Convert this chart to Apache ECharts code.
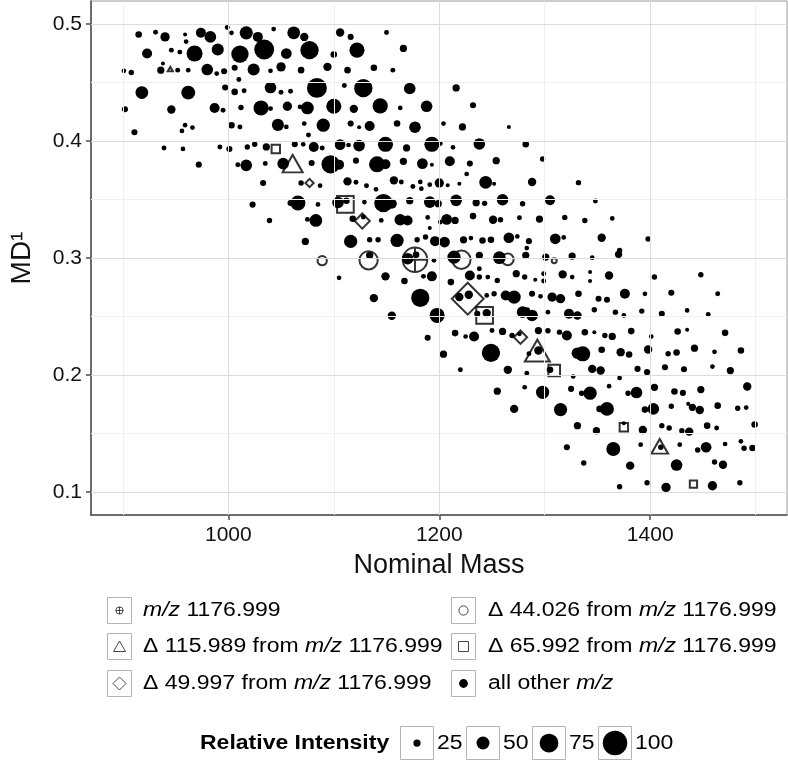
<!DOCTYPE html>
<html>
<head>
<meta charset="utf-8">
<script src="https://cdn.jsdelivr.net/npm/echarts@6/dist/echarts.min.js"></script>
<style>html,body{margin:0;padding:0;background:#fff}#c{width:788px;height:761px}</style>
</head>
<body>
<div id="c"></div>
<script>
// ---------- DATA (nominal mass, MD^1, relative intensity) ----------
const xTicks = [1000, 1200, 1400];
const xMinor = [900, 1100, 1300, 1500];
const yTicks = [0.1, 0.2, 0.3, 0.4, 0.5];
const yMinor = [0.15, 0.25, 0.35, 0.45];
const sizeBreaks = [25, 50, 75, 100];

const mz1176 = [[1177, 0.2985, 100]];
const delta44 = [[1089, 0.2977, 34], [1133, 0.2980, 73], [1221, 0.2985, 73], [1265, 0.2988, 44], [1309, 0.2977, 15]];
const delta116 = [[945, 0.4614, 12], [1061, 0.3807, 66], [1293, 0.2209, 84], [1409, 0.1390, 54]];
const delta66 = [[1045, 0.3932, 30], [1111, 0.3458, 66], [1243, 0.2509, 66], [1309, 0.2038, 44], [1375, 0.1553, 30], [1441, 0.1068, 25]];
const delta50 = [[1077, 0.3641, 21], [1127, 0.3316, 44], [1227, 0.2652, 100], [1277, 0.2323, 38]];

const otherMz = [
[915,0.491,22],[931,0.493,15],[940,0.489,34],[959,0.491,11],[960,0.485,14],[974,0.4925,37],[983,0.489,44],[999,0.497,15],[1003,0.4925,14],[1017,0.4925,51],
[1028,0.489,37],[1043,0.4957,14],[1062,0.4925,49],[1072,0.489,30],[1106,0.4928,30],[1116,0.489,20],[1150,0.4928,15],
[923,0.4748,37],[946,0.4777,15],[954,0.476,15],[968,0.4748,63],[990,0.4783,46],[1011,0.4743,69],[1034,0.4783,80],[1055,0.4748,40],[1077,0.4777,73],[1100,0.474,22],[1122,0.4777,59],
[901,0.46,14],[908,0.4586,17],[938,0.4663,11],[936,0.4606,25],[952,0.4606,15],[962,0.4606,14],[980,0.4611,44],[989,0.4577,14],[996,0.4597,20],[1006,0.4626,20],
[1024,0.4611,46],[1040,0.46,14],[1050,0.4634,34],[1069,0.4606,22],[1094,0.4634,30],[1113,0.4606,22],[1138,0.4626,22],[1156,0.4606,15],
[1010,0.4526,15],[997,0.4457,20],[1006,0.442,22],[1015,0.4429,15],[1040,0.4457,44],[1050,0.4417,15],[1059,0.4426,15],[1084,0.4454,80],[1110,0.4474,15],[1128,0.4452,73],[918,0.4414,49],[962,0.4414,54],
[902,0.4272,20],[946,0.4269,30],[987,0.4283,37],[995,0.4263,15],[1012,0.4286,17],[1031,0.4283,59],[1040,0.4277,15],[1056,0.4297,34],[1068,0.4292,14],[1075,0.4283,49],[1100,0.4297,59],[1119,0.4275,30],[1144,0.43,60],[1163,0.4283,14],
[911,0.4075,20],[956,0.4086,14],[959,0.4135,14],[966,0.4115,14],[1003,0.4135,22],[1011,0.412,15],[1047,0.4138,46],[1055,0.412,14],[1072,0.4149,14],[1090,0.4135,51],[1076,0.4052,15],[1116,0.4149,20],[1124,0.4118,11],[1134,0.4129,37],[1160,0.4149,22],
[939,0.3941,15],[957,0.3932,14],[992,0.3949,15],[1001,0.3932,20],[1018,0.3949,17],[1025,0.3972,17],[1036,0.3949,25],[1063,0.3972,20],[1071,0.3972,14],[1081,0.3949,37],[1089,0.3941,15],[1106,0.3969,40],[1114,0.3966,14],[1124,0.3961,44],[1149,0.3972,59],
[972,0.3798,20],[1009,0.3798,15],[1017,0.3792,44],[1035,0.3807,15],[1052,0.3807,44],[1079,0.3812,20],[1097,0.3801,73],[1105,0.3798,37],[1121,0.3832,20],[1141,0.3801,63],[1149,0.3801,37],
[1033,0.3641,20],[1069,0.3641,17],[1087,0.3618,14],[1113,0.3655,30],[1121,0.3647,15],[1131,0.3618,15],[1140,0.3587,14],[1157,0.3664,30],[1164,0.365,15],
[1023,0.3456,20],[1059,0.347,20],[1066,0.347,59],[1085,0.3458,14],[1104,0.3475,44],[1112,0.349,22],[1129,0.3478,14],[1147,0.347,73],[1155,0.3464,37],
[1039,0.3321,17],[1075,0.333,15],[1083,0.3321,49],[1118,0.3336,22],[1128,0.335,15],[1145,0.3321,14],[1163,0.3327,44],[1201,0.3307,14],[1191,0.3256,11],
[1073,0.3142,25],[1116,0.3142,51],[1134,0.3156,17],[1142,0.3156,17],[1160,0.315,51],
[1166,0.4791,25],[1172,0.4449,44],[1216,0.4454,25],[1188,0.4297,44],[1232,0.4306,20],[1204,0.4149,14],[1177,0.4118,44],[1222,0.412,25],[1266,0.412,11],
[1169,0.3941,25],[1193,0.3972,59],[1201,0.3978,14],[1213,0.3946,14],[1238,0.3975,44],[1282,0.3972,22],[1298,0.3846,17],
[1166,0.3827,25],[1184,0.3807,40],[1193,0.3798,11],[1210,0.3827,37],[1229,0.3807,20],[1226,0.3718,14],[1254,0.3832,25],
[1175,0.3612,15],[1182,0.365,14],[1183,0.3593,14],[1191,0.3627,14],[1200,0.3641,34],[1208,0.3621,11],[1219,0.3635,11],[1244,0.3647,49],[1252,0.3635,11],[1288,0.365,30],[1332,0.3644,17],
[1172,0.349,25],[1191,0.3478,44],[1199,0.3464,25],[1216,0.3493,44],[1235,0.3473,25],[1243,0.3467,17],[1260,0.3498,44],[1279,0.3464,17],[1305,0.3493,37],[1348,0.3487,15],
[1170,0.3321,37],[1189,0.3347,14],[1207,0.333,40],[1215,0.3321,25],[1232,0.3358,22],[1251,0.3327,30],[1258,0.3327,17],[1276,0.3344,15],[1295,0.3333,25],[1319,0.3347,17],[1338,0.3321,17],[1364,0.3338,14],
[1179,0.3156,17],[1187,0.3179,17],[1196,0.3144,37],[1205,0.3136,40],[1223,0.3156,25],[1230,0.317,14],[1241,0.315,22],[1249,0.3156,22],[1266,0.3173,40],[1274,0.3184,14],[1285,0.3144,20],[1310,0.3164,40],[1318,0.3176,14],[1354,0.3173,30],[1398,0.3162,17],[1371,0.3065,17],[1283,0.3085,14],
[1134,0.3023,25],[1105,0.2831,14],[1149,0.2843,30],[1138,0.2657,30],[1155,0.2506,30],[1170,0.2994,44],[1178,0.3028,22],
[1195,0.298,14],[1214,0.3008,51],[1238,0.3023,25],[1238,0.2908,15],[1257,0.3003,49],[1282,0.3023,25],[1301,0.3008,25],[1326,0.3017,25],[1345,0.3003,14],[1370,0.3031,25],
[1167,0.2803,22],[1185,0.2843,15],[1193,0.2843,37],[1211,0.2794,22],[1229,0.2851,37],[1238,0.2837,17],[1246,0.2837,14],[1255,0.2808,17],[1273,0.2866,25],[1281,0.2837,17],[1291,0.2814,11],[1299,0.2866,15],[1299,0.2803,15],[1317,0.286,30],[1326,0.2837,14],[1343,0.288,11],[1343,0.2803,11],[1361,0.2851,30],[1404,0.2837,17],[1448,0.2857,17],
[1182,0.266,73],[1219,0.2666,30],[1228,0.2686,30],[1245,0.268,14],[1252,0.2694,17],[1263,0.268,37],[1271,0.2666,51],[1288,0.2694,20],[1296,0.2672,14],[1307,0.2666,34],[1315,0.2652,34],[1332,0.2694,22],[1351,0.2652,20],[1359,0.2643,20],[1376,0.2694,37],[1395,0.2694,14],[1420,0.2703,20],[1464,0.2694,15],
[1198,0.2509,59],[1236,0.2523,20],[1245,0.2529,30],[1279,0.2537,44],[1288,0.2509,44],[1283,0.2552,22],[1303,0.2537,14],[1323,0.2523,37],[1331,0.2509,30],[1347,0.2557,17],[1367,0.2537,17],[1375,0.2509,14],[1392,0.2546,17],[1411,0.2523,20],[1435,0.2552,14],[1455,0.2517,15],
[1189,0.2318,20],[1215,0.2358,22],[1225,0.2329,14],[1233,0.2329,37],[1250,0.238,15],[1260,0.2372,25],[1269,0.2338,17],[1276,0.2352,14],[1294,0.238,25],[1303,0.2378,17],[1314,0.2366,17],[1321,0.2338,37],[1338,0.2366,22],[1347,0.2366,11],[1357,0.2338,17],[1364,0.2329,25],[1382,0.2375,22],[1401,0.2329,14],[1426,0.2372,22],[1435,0.2386,11],[1471,0.236,22],
[1204,0.2178,25],[1249,0.2189,73],[1294,0.2209,30],[1285,0.2181,15],[1331,0.2186,44],[1336,0.2181,59],[1354,0.2215,22],[1372,0.2195,30],[1380,0.2175,22],[1398,0.2218,30],[1417,0.2181,17],[1425,0.2192,22],[1442,0.2229,25],[1461,0.2198,14],[1486,0.2209,22],
[1220,0.2044,15],[1265,0.2044,30],[1283,0.2015,14],[1305,0.2044,22],[1327,0.1987,14],[1345,0.2052,30],[1353,0.2038,30],[1371,0.1975,14],[1388,0.2052,20],[1397,0.2024,20],[1414,0.2066,20],[1432,0.2049,20],[1459,0.2072,14],[1476,0.2038,25],
[1255,0.1861,25],[1281,0.1895,14],[1298,0.1852,51],[1325,0.1881,20],[1335,0.1844,17],[1343,0.1844,51],[1361,0.1904,14],[1379,0.1844,17],[1387,0.185,44],[1404,0.1895,25],[1423,0.1858,22],[1431,0.1847,20],[1448,0.1875,25],[1492,0.1901,30],
[1271,0.171,30],[1315,0.1704,51],[1352,0.171,22],[1359,0.171,54],[1395,0.1704,22],[1403,0.171,44],[1420,0.1733,17],[1436,0.1753,11],[1440,0.1724,25],[1447,0.1701,30],[1464,0.1738,22],[1483,0.1715,17],[1491,0.1721,14],
[1331,0.1567,25],[1349,0.1524,25],[1375,0.1587,11],[1393,0.153,30],[1411,0.1567,17],[1418,0.1547,17],[1430,0.1524,17],[1437,0.1516,30],[1454,0.1567,22],[1463,0.1547,15],[1499,0.1576,22],
[1321,0.1382,20],[1365,0.1367,54],[1391,0.1404,14],[1410,0.1382,17],[1428,0.1404,14],[1445,0.1359,17],[1453,0.1382,40],[1471,0.141,14],[1486,0.1433,14],[1489,0.1373,17],[1497,0.1376,22],
[1337,0.1247,17],[1381,0.1225,30],[1425,0.123,44],[1461,0.1256,17],[1469,0.1233,30],
[1371,0.1045,17],[1397,0.1079,17],[1415,0.1039,34],[1459,0.1053,34],[1485,0.1079,17]
];

// ---------- STYLE ----------
const FONT = '"Liberation Sans", Arial, Helvetica, sans-serif';
const diam = I => 1.5 + 0.23 * I;   // size scale (px diameter)
const OPLUS = 'path://M10,0A10,10,0,1,1,-10,0A10,10,0,1,1,10,0ZM-10,0L10,0M0,-10L0,10';

const chart = echarts.init(document.getElementById('c'), null, {renderer: 'canvas'});

const gridLines = [].concat(
  xMinor.map(v => ({xAxis: v, lineStyle: {color: '#f0f0f0', width: 1, type: 'solid'}})),
  yMinor.map(v => ({yAxis: v, lineStyle: {color: '#f0f0f0', width: 1, type: 'solid'}})),
  xTicks.map(v => ({xAxis: v, lineStyle: {color: '#dcdcdc', width: 1, type: 'solid'}})),
  yTicks.map(v => ({yAxis: v, lineStyle: {color: '#dcdcdc', width: 1, type: 'solid'}}))
);

const openStyle = {color: 'rgba(255,255,255,0)', borderColor: '#000', borderWidth: 2};
function special(name, data, symbol, sizeFn) {
  return {
    type: 'scatter', name, data, symbol, z: 4,
    symbolSize: v => sizeFn(diam(v[2])),
    itemStyle: openStyle, emphasis: {disabled: true}, silent: true
  };
}

// legend graphics
const legendG = [];
const boxStroke = '#b4b4b4';
const textBase = {fontSize: 20, fontFamily: FONT, fill: '#000'};
const rich = {i: {fontSize: 20, fontFamily: FONT, fontStyle: 'italic', fill: '#000'}};
const shapeItems = [
  {col: 0, row: 0, key: 'oplus', text: '{i|m/z} 1176.999'},
  {col: 1, row: 0, key: 'circle', text: 'Δ 44.026 from {i|m/z} 1176.999'},
  {col: 0, row: 1, key: 'triangle', text: 'Δ 115.989 from {i|m/z} 1176.999'},
  {col: 1, row: 1, key: 'square', text: 'Δ 65.992 from {i|m/z} 1176.999'},
  {col: 0, row: 2, key: 'diamond', text: 'Δ 49.997 from {i|m/z} 1176.999'},
  {col: 1, row: 2, key: 'dot', text: 'all other {i|m/z}'}
];
const colBox = [107.5, 451.5], colText = [143, 488], rowTop = [597.5, 633.5, 670.5];
const keyStroke = {stroke: '#333', lineWidth: 0.9, fill: 'none'};
shapeItems.forEach(it => {
  const bx = colBox[it.col], by = rowTop[it.row];
  const cx = bx + 12, cy = by + 13;
  legendG.push({type: 'rect', shape: {x: bx, y: by, width: 24, height: 26}, style: {fill: '#fff', stroke: boxStroke, lineWidth: 1}, silent: true});
  if (it.key === 'oplus') {
    legendG.push({type: 'circle', shape: {cx, cy, r: 3.6}, style: keyStroke, silent: true});
    legendG.push({type: 'line', shape: {x1: cx - 3.6, y1: cy, x2: cx + 3.6, y2: cy}, style: keyStroke, silent: true});
    legendG.push({type: 'line', shape: {x1: cx, y1: cy - 3.6, x2: cx, y2: cy + 3.6}, style: keyStroke, silent: true});
  } else if (it.key === 'circle') {
    legendG.push({type: 'circle', shape: {cx, cy, r: 4.6}, style: keyStroke, silent: true});
  } else if (it.key === 'triangle') {
    legendG.push({type: 'polygon', shape: {points: [[cx - 6, cy + 5], [cx + 6, cy + 5], [cx, cy - 5.5]]}, style: keyStroke, silent: true});
  } else if (it.key === 'square') {
    legendG.push({type: 'rect', shape: {x: cx - 5, y: cy - 5, width: 10, height: 10}, style: keyStroke, silent: true});
  } else if (it.key === 'diamond') {
    legendG.push({type: 'polygon', shape: {points: [[cx, cy - 6.5], [cx + 6.5, cy], [cx, cy + 6.5], [cx - 6.5, cy]]}, style: keyStroke, silent: true});
  } else {
    legendG.push({type: 'circle', shape: {cx, cy, r: 4.4}, style: {fill: '#000'}, silent: true});
  }
  legendG.push({type: 'text', x: colText[it.col], y: cy, scaleX: 1.15, silent: true,
    style: Object.assign({}, textBase, {text: it.text, rich, align: 'left', verticalAlign: 'middle'})});
});

// size legend
const sizeY = 743;
legendG.push({type: 'text', x: 200, y: sizeY, scaleX: 1.15, silent: true,
  style: Object.assign({}, textBase, {text: 'Relative Intensity', fontWeight: 'bold', align: 'left', verticalAlign: 'middle'})});
sizeBreaks.forEach((b, i) => {
  const bx = 400.5 + i * 66;
  legendG.push({type: 'rect', shape: {x: bx, y: 726.5, width: 33, height: 33}, style: {fill: '#fff', stroke: boxStroke, lineWidth: 1}, silent: true});
  legendG.push({type: 'circle', shape: {cx: bx + 16.5, cy: sizeY, r: diam(b) / 2}, style: {fill: '#000'}, silent: true});
  legendG.push({type: 'text', x: bx + 36.5, y: sizeY, scaleX: 1.15, silent: true,
    style: Object.assign({}, textBase, {text: String(b), align: 'left', verticalAlign: 'middle'})});
});

const axisCol = '#4d4d4d';
chart.setOption({
  animation: false,
  backgroundColor: '#fff',
  grid: {left: 90, top: 1, width: 697, height: 514, show: true, borderColor: '#9a9a9a', borderWidth: 1, backgroundColor: '#fff'},
  xAxis: {
    type: 'value', min: 869.8, max: 1529.7,
    axisLine: {show: true, onZero: false, lineStyle: {color: axisCol, width: 1.5}},
    axisTick: {show: true, length: 5, customValues: xTicks, lineStyle: {color: axisCol, width: 1.5}},
    axisLabel: {customValues: xTicks, fontSize: 21, color: '#111', fontFamily: FONT, margin: 10, formatter: v => String(v)},
    splitLine: {show: false},
    name: 'Nominal Mass', nameLocation: 'middle', nameGap: 37,
    nameTextStyle: {fontSize: 27, color: '#111', fontFamily: FONT}
  },
  yAxis: {
    type: 'value', min: 0.0803, max: 0.5197,
    axisLine: {show: true, onZero: false, lineStyle: {color: axisCol, width: 1.5}},
    axisTick: {show: true, length: 5, customValues: yTicks, lineStyle: {color: axisCol, width: 1.5}},
    axisLabel: {customValues: yTicks, fontSize: 21, color: '#111', fontFamily: FONT, margin: 9, formatter: v => v.toFixed(1)},
    splitLine: {show: false},
    name: 'MD¹', nameLocation: 'middle', nameGap: 55, nameRotate: 90,
    nameTextStyle: {fontSize: 28, color: '#111', fontFamily: FONT}
  },
  series: [
    {type: 'scatter', name: 'gridlines', data: [], z: 1, silent: true,
     markLine: {silent: true, symbol: ['none', 'none'], label: {show: false}, animation: false, emphasis: {disabled: true}, data: gridLines}},
    {type: 'scatter', name: 'all other m/z', data: otherMz, symbol: 'circle', z: 3,
     symbolSize: v => diam(v[2]), itemStyle: {color: '#000', opacity: 1}, emphasis: {disabled: true}, silent: true},
    special('delta44', delta44, 'circle', d => d),
    special('delta116', delta116, 'triangle', d => [1.2 * d, 1.05 * d]),
    special('delta66', delta66, 'rect', d => d),
    special('delta50', delta50, 'diamond', d => 1.3 * d),
    special('mz1176', mz1176, OPLUS, d => d)
  ],
  graphic: legendG
});
</script>
</body>
</html>
